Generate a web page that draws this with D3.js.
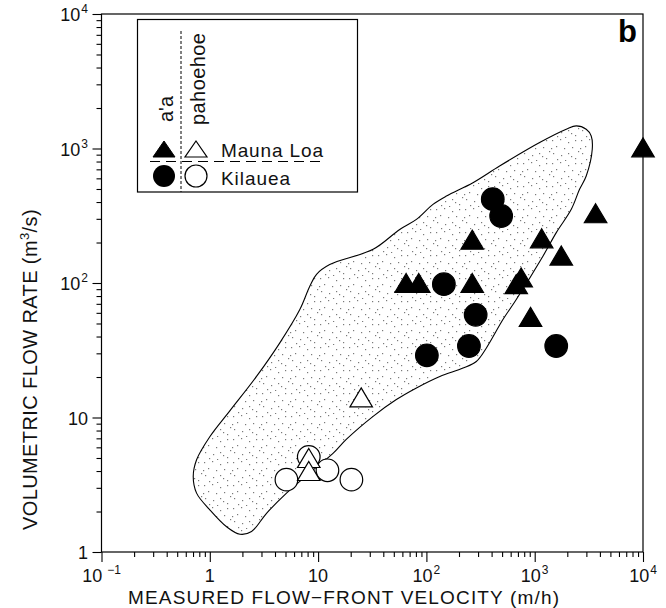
<!DOCTYPE html>
<html>
<head>
<meta charset="utf-8">
<script src="https://cdn.jsdelivr.net/npm/d3@7"></script>
<style>
  body { margin: 0; background: #fff; }
  svg { display: block; }
  text { font-family: "Liberation Sans", Arial, sans-serif; font-weight: 400; fill: #111; }
</style>
</head>
<body>
<svg id="chart" width="666" height="608"></svg>
<script>
// Mauna Loa 'a'a flows (filled triangles)
const mlAaVelocity = [65, 85, 265, 265, 675, 750, 915, 1160, 1760, 3650, 10000];
const mlAaFlow     = [100, 100, 100, 210, 98, 110, 56, 215, 160, 330, 1020];
// Kilauea 'a'a flows (filled circles)
const kiAaVelocity = [410, 490, 145, 285, 247, 101, 1580];
const kiAaFlow     = [420, 315, 98, 58, 34, 29, 34];
// Mauna Loa pahoehoe flows (open triangles)
const mlPhVelocity = [25, 8.2, 8.2];
const mlPhFlow     = [14.1, 5.0, 4.0];
// Kilauea pahoehoe flows (open circles)
const kiPhVelocity = [8.2, 5.1, 12.2, 20.3];
const kiPhFlow     = [5.1, 3.45, 4.05, 3.45];

// Outline of the stippled field (velocity, flow rate), traced round the envelope
const fieldVelocity = [1.90, 1.43, 1.00, 0.755, 0.703, 0.755, 1.00, 1.53, 2.70, 4.43, 6.78, 8.38, 9.67,
  12.8, 32.2, 56.7, 80.9, 115, 153, 269, 474, 1110, 1955, 2420, 2990, 3325, 3400, 2990, 2595, 2177,
  1582, 1191, 676, 509, 358, 289, 218, 133, 80.9, 52.8, 32.2, 18.3, 13.8, 8.38, 5.11, 3.34, 2.43];
const fieldFlow = [1.355, 1.54, 2.06, 2.74, 3.64, 4.85, 7.19, 11.2, 20.2, 35.9, 63.5, 94.6, 116,
  137, 178, 250, 297, 384, 443, 557, 741, 1107, 1390, 1472, 1390, 1240, 987, 625, 497, 353,
  237, 158, 75.4, 53.5, 32.9, 26.1, 23.3, 20.2, 16.6, 13.6, 10.2, 6.90, 5.43, 3.88, 2.74, 1.94, 1.42];

// Axis ticks and labels
const xMajor = [0.1, 1, 10, 100, 1000, 10000];
const xLabels = [["10", "\u22121"], ["1", ""], ["10", ""], ["10", "2"], ["10", "3"], ["10", "4"]];
const yMajor = [1, 10, 100, 1000, 10000];
const yLabels = [["1", ""], ["10", ""], ["10", "2"], ["10", "3"], ["10", "4"]];
const xTitle = "MEASURED FLOW\u2212FRONT VELOCITY (m/h)";
const yTitle = ["VOLUMETRIC FLOW RATE (m", "3", "/s)"];
const panelLetter = "b";

const svg = d3.select("#chart");
const x = d3.scaleLog().domain([0.1, 1e4]).range([101.5, 643]);
const y = d3.scaleLog().domain([1, 1e4]).range([552, 14]);

function minorTicks(scale) {
  const [a, b] = scale.domain();
  const out = [];
  for (let d = a; d < b; d *= 10) for (let k = 2; k <= 9; k++) out.push(d * k);
  return out;
}

// sparse stipple texture for the envelope
const defs = svg.append("defs");
const pat = defs.append("pattern").attr("id", "stipple").attr("patternUnits", "userSpaceOnUse")
  .attr("width", 29).attr("height", 23);
const dots = [[1,2],[9,1],[17,4],[24,2],[5,8],[13,10],[21,9],[27,13],[2,15],[10,17],[17,15],[24,20],[6,21],[14,22],[20,18],[0,10]];
pat.selectAll("rect").data(dots).join("rect")
  .attr("x", d => d[0]).attr("y", d => d[1]).attr("width", 1.2).attr("height", 1.2).attr("fill", "#7a7a7a");

// envelope
const fieldPts = fieldVelocity.map((v, i) => [x(v), y(fieldFlow[i])]);
svg.append("path")
  .attr("d", d3.line().curve(d3.curveCatmullRomClosed.alpha(0.5))(fieldPts))
  .attr("fill", "url(#stipple)").attr("stroke", "#000").attr("stroke-width", 1.1);

// frame
svg.append("rect").attr("x", x.range()[0]).attr("y", y.range()[1])
  .attr("width", x.range()[1] - x.range()[0]).attr("height", y.range()[0] - y.range()[1])
  .attr("fill", "none").attr("stroke", "#000").attr("stroke-width", 1.2);

// axes: major and minor ticks outside the frame
function tickAxis(axis, values, size) {
  return axis.tickValues(values).tickSize(size).tickSizeOuter(0).tickFormat("");
}
const gx = svg.append("g").attr("transform", `translate(0,${y.range()[0]})`);
gx.append("g").call(tickAxis(d3.axisBottom(x), xMajor, 10));
gx.append("g").call(tickAxis(d3.axisBottom(x), minorTicks(x), 5));
const gy = svg.append("g").attr("transform", `translate(${x.range()[0]},0)`);
gy.append("g").call(tickAxis(d3.axisLeft(y), yMajor, 9));
gy.append("g").call(tickAxis(d3.axisLeft(y), minorTicks(y), 5));
svg.selectAll(".domain").remove();
svg.selectAll(".tick line").attr("stroke", "#000").attr("stroke-width", 1.1);

// tick labels with superscript exponents
const xl = svg.append("g").selectAll("text").data(xMajor).join("text")
  .attr("x", d => x(d)).attr("y", 582).attr("text-anchor", "middle").attr("font-size", 18);
xl.append("tspan").text((d, i) => xLabels[i][0]);
xl.append("tspan").attr("dy", -8).attr("dx", (d, i) => xLabels[i][1].length > 1 ? 5 : 1)
  .attr("font-size", 12).text((d, i) => xLabels[i][1]);

const yl = svg.append("g").selectAll("text").data(yMajor).join("text")
  .attr("x", 88).attr("y", d => y(d) + 7).attr("text-anchor", "end").attr("font-size", 18);
yl.append("tspan").text((d, i) => yLabels[i][0]);
yl.append("tspan").attr("dy", -8).attr("dx", 1).attr("font-size", 12).text((d, i) => yLabels[i][1]);

// axis titles
svg.append("text").attr("x", 128).attr("y", 604).attr("font-size", 19)
  .attr("textLength", 431).attr("lengthAdjust", "spacing").text(xTitle);
const yt = svg.append("text").attr("transform", "translate(37,530) rotate(-90)").attr("font-size", 20)
  .attr("letter-spacing", 0.4);
yt.append("tspan").text(yTitle[0]);
yt.append("tspan").attr("dy", -8).attr("font-size", 13).text(yTitle[1]);
yt.append("tspan").attr("dy", 8).text(yTitle[2]);

// panel letter
svg.append("text").attr("x", 637).attr("y", 42).attr("text-anchor", "end")
  .style("font-weight", 700).style("fill", "#000")
  .attr("font-size", 31).text(panelLetter);

// markers
const triW = 22.5, triH = 19, rad = 11.3;
const triPath = (w, h) => `M0,${-h / 2}L${w / 2},${h / 2}L${-w / 2},${h / 2}Z`;
const marks = svg.append("g");
function circles(vs, qs, filled) {
  marks.append("g").selectAll("circle").data(vs).join("circle")
    .attr("cx", d => x(d)).attr("cy", (d, i) => y(qs[i])).attr("r", rad)
    .attr("fill", filled ? "#000" : "#fff").attr("stroke", "#000").attr("stroke-width", 1.2);
}
function triangles(vs, qs, filled) {
  marks.append("g").selectAll("path").data(vs).join("path")
    .attr("transform", (d, i) => `translate(${x(d)},${y(qs[i])})`).attr("d", triPath(triW, triH))
    .attr("fill", filled ? "#000" : "#fff").attr("stroke", "#000").attr("stroke-width", 1.2)
    .attr("stroke-linejoin", "miter");
}
circles(kiPhVelocity, kiPhFlow, false);
triangles(mlPhVelocity, mlPhFlow, false);
circles(kiAaVelocity, kiAaFlow, true);
triangles(mlAaVelocity, mlAaFlow, true);

// legend
const lg = svg.append("g");
lg.append("rect").attr("x", 137.5).attr("y", 19.5).attr("width", 220).attr("height", 172.5)
  .attr("fill", "#fff").attr("stroke", "#000").attr("stroke-width", 1.2);
lg.append("line").attr("x1", 181).attr("x2", 181).attr("y1", 31).attr("y2", 192)
  .attr("stroke", "#000").attr("stroke-width", 1).attr("stroke-dasharray", "3,2");
lg.append("line").attr("x1", 150).attr("x2", 325).attr("y1", 161.5).attr("y2", 161.5)
  .attr("stroke", "#000").attr("stroke-width", 1.1).attr("stroke-dasharray", "10,6");
lg.append("text").attr("transform", "translate(173,122) rotate(-90)").attr("font-size", 20).text("a'a");
lg.append("text").attr("transform", "translate(205,125) rotate(-90)").attr("font-size", 20)
  .attr("textLength", 92).attr("lengthAdjust", "spacing").text("pahoehoe");
lg.append("path").attr("transform", "translate(164,149)").attr("d", triPath(22, 16)).attr("fill", "#000").attr("stroke", "#000");
lg.append("path").attr("transform", "translate(196,149)").attr("d", triPath(22, 16)).attr("fill", "#fff").attr("stroke", "#000").attr("stroke-width", 1.2);
lg.append("circle").attr("cx", 164).attr("cy", 176).attr("r", 11).attr("fill", "#000");
lg.append("circle").attr("cx", 196).attr("cy", 176).attr("r", 11).attr("fill", "#fff").attr("stroke", "#000").attr("stroke-width", 1.2);
lg.append("text").attr("x", 221).attr("y", 157).attr("font-size", 19)
  .attr("textLength", 102).attr("lengthAdjust", "spacing").text("Mauna  Loa");
lg.append("text").attr("x", 221).attr("y", 185).attr("font-size", 19)
  .attr("textLength", 69).attr("lengthAdjust", "spacing").text("Kilauea");
</script>
</body>
</html>
